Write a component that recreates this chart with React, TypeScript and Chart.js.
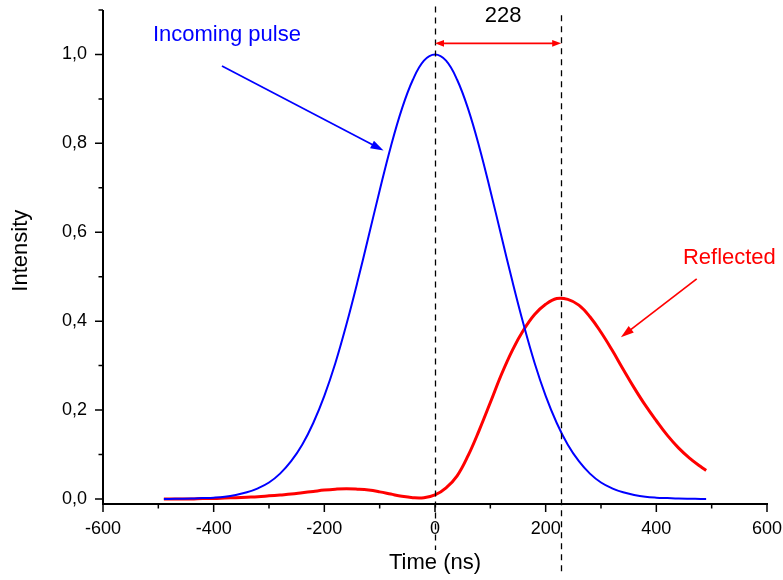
import { useEffect, useRef } from 'react';
import { Chart, registerables } from 'chart.js';

Chart.register(...registerables);

// Sample times (ns)
const timeNs = [
  -490, -480, -460, -440, -420, -400, -380, -360, -340, -320, -300, -280, -260,
  -240, -220, -200, -180, -160, -140, -120, -100, -80, -60, -40, -20, 0,
  20, 40, 60, 80, 100, 120, 140, 160, 180, 200, 220, 240, 260, 280, 300,
  320, 340, 360, 380, 400, 420, 440, 460, 480, 490,
];

// Incoming pulse intensity (normalised)
const incomingPulse = [
  0.0002, 0.0002, 0.0005, 0.001, 0.002, 0.003, 0.005, 0.009, 0.015, 0.024, 0.037, 0.057, 0.085,
  0.122, 0.171, 0.232, 0.306, 0.393, 0.489, 0.591, 0.694, 0.792, 0.877, 0.943, 0.986, 1.0,
  0.986, 0.943, 0.877, 0.792, 0.694, 0.591, 0.489, 0.393, 0.306, 0.232, 0.171, 0.122, 0.085, 0.057, 0.037,
  0.024, 0.015, 0.009, 0.005, 0.003, 0.002, 0.001, 0.0005, 0.0002, 0.0002,
];

// Reflected pulse intensity
const reflectedPulse = [
  0.0, 0.0, 0.0, 0.0, 0.001, 0.001, 0.002, 0.003, 0.004, 0.005, 0.007, 0.009, 0.011,
  0.014, 0.017, 0.02, 0.022, 0.023, 0.022, 0.02, 0.016, 0.011, 0.006, 0.003, 0.003, 0.009,
  0.025, 0.052, 0.098, 0.155, 0.217, 0.28, 0.335, 0.38, 0.415, 0.438, 0.451, 0.449, 0.436, 0.41, 0.375,
  0.335, 0.292, 0.25, 0.211, 0.176, 0.143, 0.115, 0.092, 0.073, 0.064,
];

const xTickValues = [-600, -400, -200, 0, 200, 400, 600];
const xMinorTicks = [-500, -300, -100, 100, 300, 500];
const yTickValues = [0, 0.2, 0.4, 0.6, 0.8, 1.0];
const yMinorTicks = [0.1, 0.3, 0.5, 0.7, 0.9, 1.1];

// Peak-to-peak delay between the two pulses (ns)
const delayNs = 228;

const FONT = "'Liberation Sans', Arial, sans-serif";
const BLUE = '#0000ff';
const RED = '#ff0000';

// Annotation anchors in data units (time, intensity)
const markerLines = [
  { t: 0, top: 1.108, bottom: -0.115 },
  { t: delayNs, top: 1.088, bottom: -0.17 },
];
const delayArrowLevel = 1.025;
const delayLabelPos = { t: 123, v: 1.086 };
const incomingNote = { text: 'Incoming pulse', label: { t: -376, v: 1.045 }, from: { t: -385, v: 0.974 }, to: { t: -93, v: 0.784 } };
const reflectedNote = { text: 'Reflected', label: { t: 532, v: 0.543 }, from: { t: 473, v: 0.495 }, to: { t: 336, v: 0.364 } };
const yTitle = 'Intensity';

function arrowHead(ctx: CanvasRenderingContext2D, fx: number, fy: number, tx: number, ty: number, len: number, half: number, color: string) {
  const ang = Math.atan2(ty - fy, tx - fx);
  const c = Math.cos(ang);
  const s = Math.sin(ang);
  ctx.fillStyle = color;
  ctx.beginPath();
  ctx.moveTo(tx, ty);
  ctx.lineTo(tx - len * c + half * s, ty - len * s - half * c);
  ctx.lineTo(tx - len * c - half * s, ty - len * s + half * c);
  ctx.closePath();
  ctx.fill();
}

function arrow(ctx: CanvasRenderingContext2D, fx: number, fy: number, tx: number, ty: number, color: string, width: number, len: number, half: number) {
  const ang = Math.atan2(ty - fy, tx - fx);
  ctx.strokeStyle = color;
  ctx.lineWidth = width;
  ctx.setLineDash([]);
  ctx.beginPath();
  ctx.moveTo(fx, fy);
  ctx.lineTo(tx - len * 0.7 * Math.cos(ang), ty - len * 0.7 * Math.sin(ang));
  ctx.stroke();
  arrowHead(ctx, fx, fy, tx, ty, len, half, color);
}

const decorations = {
  id: 'pulseDecorations',
  afterDraw(chart: any) {
    const { ctx, chartArea: a } = chart;
    const xs = chart.scales.x;
    const ys = chart.scales.y;
    const px = (t: number) => xs.getPixelForValue(t);
    const py = (v: number) => ys.getPixelForValue(v);
    ctx.save();

    // axis lines
    ctx.strokeStyle = '#000';
    ctx.lineWidth = 2;
    ctx.setLineDash([]);
    ctx.beginPath();
    ctx.moveTo(a.left, a.top);
    ctx.lineTo(a.left, a.bottom + 1);
    ctx.moveTo(a.left - 1, a.bottom);
    ctx.lineTo(a.right + 1, a.bottom);
    ctx.stroke();

    // tick marks, pointing outward
    ctx.lineWidth = 1.5;
    ctx.beginPath();
    xTickValues.forEach((v) => { ctx.moveTo(px(v), a.bottom); ctx.lineTo(px(v), a.bottom + 8); });
    xMinorTicks.forEach((v) => { ctx.moveTo(px(v), a.bottom); ctx.lineTo(px(v), a.bottom + 4.5); });
    yTickValues.forEach((v) => { ctx.moveTo(a.left, py(v)); ctx.lineTo(a.left - 8, py(v)); });
    yMinorTicks.forEach((v) => { ctx.moveTo(a.left, py(v)); ctx.lineTo(a.left - 4.5, py(v)); });
    ctx.stroke();

    // y axis title, centred on the plotted range
    ctx.save();
    ctx.fillStyle = '#000';
    ctx.font = `22px ${FONT}`;
    ctx.textAlign = 'center';
    ctx.textBaseline = 'middle';
    ctx.translate(21, (py(0) + py(1.0)) / 2 - 26);
    ctx.rotate(-Math.PI / 2);
    ctx.fillText(yTitle, 0, 0);
    ctx.restore();

    // dashed markers at the two pulse maxima
    ctx.strokeStyle = '#000';
    ctx.lineWidth = 1.3;
    ctx.setLineDash([6, 5]);
    ctx.beginPath();
    markerLines.forEach((m) => {
      ctx.moveTo(Math.round(px(m.t)) + 0.5, py(m.top));
      ctx.lineTo(Math.round(px(m.t)) + 0.5, py(m.bottom));
    });
    ctx.stroke();
    ctx.setLineDash([]);

    // delay double arrow
    const x0 = px(0);
    const x1 = px(delayNs);
    const yd = py(delayArrowLevel);
    ctx.strokeStyle = RED;
    ctx.lineWidth = 1.6;
    ctx.beginPath();
    ctx.moveTo(x0 + 6, yd);
    ctx.lineTo(x1 - 6, yd);
    ctx.stroke();
    arrowHead(ctx, x1, yd, x0, yd, 9, 3.3, RED);
    arrowHead(ctx, x0, yd, x1, yd, 9, 3.3, RED);

    ctx.fillStyle = '#000';
    ctx.font = `22px ${FONT}`;
    ctx.textAlign = 'center';
    ctx.textBaseline = 'middle';
    ctx.fillText(String(delayNs), px(delayLabelPos.t), py(delayLabelPos.v));

    // curve labels with pointer arrows
    [
      { note: incomingNote, color: BLUE },
      { note: reflectedNote, color: RED },
    ].forEach(({ note, color }) => {
      ctx.fillStyle = color;
      ctx.font = `22px ${FONT}`;
      ctx.fillText(note.text, px(note.label.t), py(note.label.v));
      arrow(ctx, px(note.from.t), py(note.from.v), px(note.to.t), py(note.to.v), color, 1.7, 13, 4.2);
    });

    ctx.restore();
  },
};

export default function App() {
  const canvasRef = useRef<HTMLCanvasElement>(null);

  useEffect(() => {
    const canvas = canvasRef.current;
    if (!canvas) return;
    const chart = new Chart(canvas, {
      type: 'line',
      data: {
        datasets: [
          {
            label: 'Incoming pulse',
            data: timeNs.map((t, i) => ({ x: t, y: incomingPulse[i] })),
            borderColor: BLUE,
            borderWidth: 2,
            pointRadius: 0,
            fill: false,
            tension: 0.4,
          },
          {
            label: 'Reflected',
            data: timeNs.map((t, i) => ({ x: t, y: reflectedPulse[i] })),
            borderColor: RED,
            borderWidth: 3,
            pointRadius: 0,
            fill: false,
            tension: 0.4,
          },
        ],
      },
      options: {
        responsive: false,
        animation: false,
        devicePixelRatio: 1,
        events: [],
        layout: { padding: { top: 10, right: 16, left: 0, bottom: 0 } },
        plugins: { legend: { display: false }, tooltip: { enabled: false } },
        scales: {
          x: {
            type: 'linear',
            position: 'bottom',
            min: -600,
            max: 600,
            afterBuildTicks: (s: any) => { s.ticks = xTickValues.map((v) => ({ value: v })); },
            afterFit: (s: any) => {
              s.height = 76;
              s.paddingLeft = 0; s.paddingRight = 0; s.paddingTop = 0; s.paddingBottom = 0;
            },
            grid: { display: false, drawTicks: false },
            border: { display: false },
            ticks: {
              padding: 14,
              color: '#000',
              autoSkip: false,
              maxRotation: 0,
              font: { family: FONT, size: 18 },
              callback: (v: any) => String(v),
            },
            title: {
              display: true,
              text: 'Time (ns)',
              color: '#000',
              font: { family: FONT, size: 22 },
              padding: { top: 0, bottom: 4 },
            },
          },
          y: {
            type: 'linear',
            min: -0.0113,
            max: 1.1,
            afterBuildTicks: (s: any) => { s.ticks = yTickValues.map((v) => ({ value: v })); },
            afterFit: (s: any) => {
              s.width = 103;
              s.paddingLeft = 0; s.paddingRight = 0; s.paddingTop = 0; s.paddingBottom = 0;
            },
            grid: { display: false, drawTicks: false },
            border: { display: false },
            ticks: {
              padding: 16,
              color: '#000',
              autoSkip: false,
              font: { family: FONT, size: 18 },
              callback: (v: any) => Number(v).toFixed(1).replace('.', ','),
            },
            title: { display: false },
          },
        },
      },
      plugins: [decorations],
    } as any);
    return () => chart.destroy();
  }, []);

  return (
    <div style={{ position: 'absolute', left: 0, top: 0, width: 783, height: 580 }}>
      <canvas ref={canvasRef} width={783} height={580} />
    </div>
  );
}
